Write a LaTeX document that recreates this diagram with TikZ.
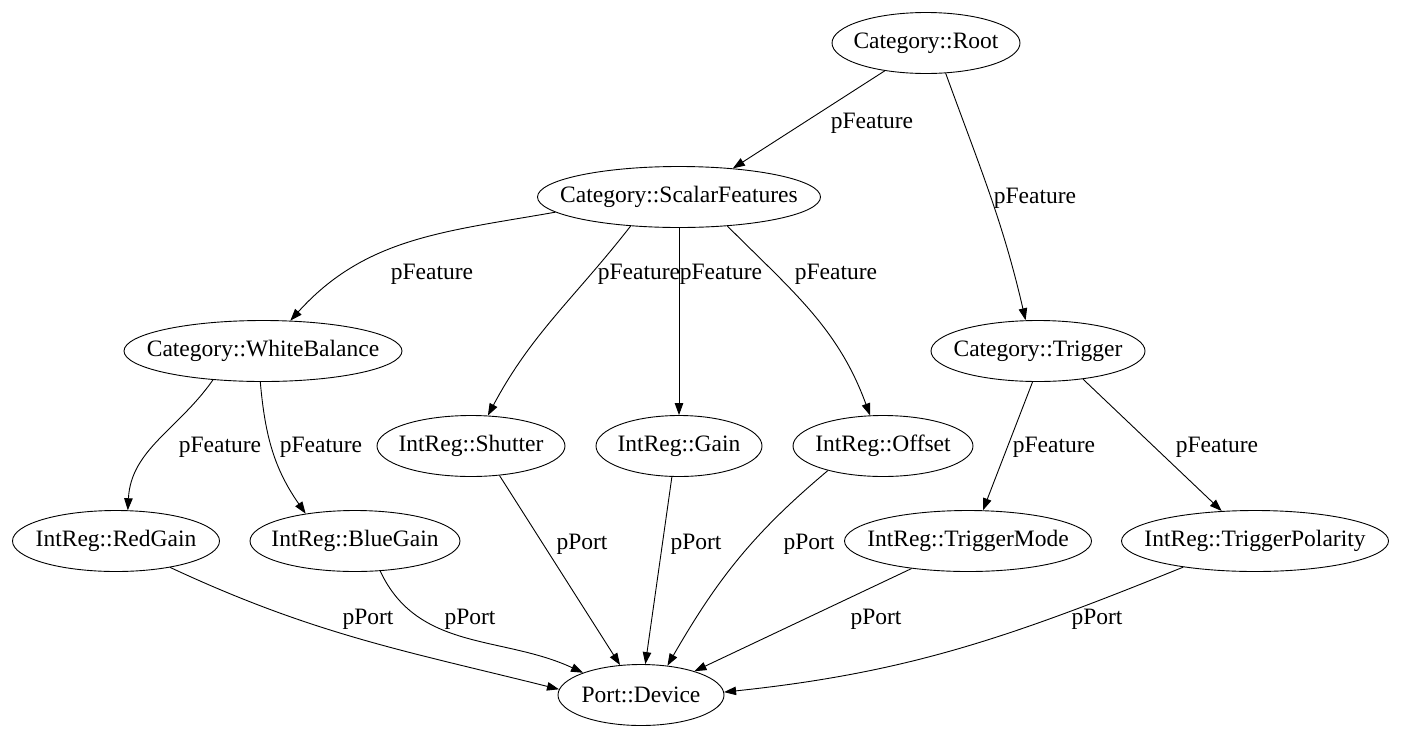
\documentclass[tikz,border=0pt]{standalone}
\usepackage{fontspec}
\setmainfont{Liberation Serif}
\usetikzlibrary{shapes.geometric,arrows.meta}
\newcommand{\zw}[1]{\makebox[0pt]{#1}}
\begin{document}
\begin{tikzpicture}[x=1pt,y=1pt,
  every node/.style={font=\fontsize{23.5}{28}\selectfont},
  nd/.style={draw, ellipse, line width=0.9pt, inner sep=0pt, minimum height=61pt},
  lbl/.style={inner sep=0pt},
  edge/.style={line width=0.9pt, -{Triangle[length=12pt,width=8.5pt]}}]
\useasboundingbox (0,0) rectangle (1404,-737);
% nodes
\node[nd, minimum width=188pt] (root)  at (926,-43)  {\zw{Category::Root}};
\node[nd, minimum width=283pt] (sf)    at (679,-197) {\zw{Category::ScalarFeatures}};
\node[nd, minimum width=278pt] (wb)    at (263,-351) {\zw{Category::WhiteBalance}};
\node[nd, minimum width=214pt] (trig)  at (1038,-351) {\zw{Category::Trigger}};
\node[nd, minimum width=188pt] (shut)  at (471,-446) {\zw{IntReg::Shutter}};
\node[nd, minimum width=166pt] (gain)  at (679,-446) {\zw{IntReg::Gain}};
\node[nd, minimum width=180pt] (off)   at (883,-446) {\zw{IntReg::Offset}};
\node[nd, minimum width=207pt] (red)   at (116,-541) {\zw{IntReg::RedGain}};
\node[nd, minimum width=210pt] (blue)  at (355,-541) {\zw{IntReg::BlueGain}};
\node[nd, minimum width=247pt] (tmode) at (968,-541) {\zw{IntReg::TriggerMode}};
\node[nd, minimum width=267pt] (tpol)  at (1255,-541) {\zw{IntReg::TriggerPolarity}};
\node[nd, minimum width=166pt] (dev)   at (641,-695) {\zw{Port::Device}};
% edges
\draw[edge] (root.-146) -- (sf.28);
\draw[edge] (root.-57) to[out=-70,in=103] (trig.112);
\draw[edge] (sf.-173) to[out=190,in=48] (wb.48);
\draw[edge] (sf.-149) to[out=-128,in=62] (shut.61);
\draw[edge] (gain |- sf.south) -- (gain);
\draw[edge] (sf.-31) to[out=-45,in=110] (off.113);
\draw[edge] (wb.-150) to[out=-125,in=87] (red.69);
\draw[edge] (wb.-95) to[out=-85,in=125] (blue.151);
\draw[edge] (trig.-100) -- (tmode.64);
\draw[edge] (trig.-32) -- (tpol.138);
\draw[edge] (red.-26) to[out=-25,in=166] (dev.176);
\draw[edge] (blue.-50) to[out=-65,in=155] (dev.159);
\draw[edge] (shut.-46) -- (dev.125);
\draw[edge] (gain.-103) -- (dev.82);
\draw[edge] (off.-156) to[out=-140,in=60] (dev.48);
\draw[edge] (tmode.-154) -- (dev.24);
\draw[edge] (tpol.-160) to[out=-158,in=6] (dev.2);
% labels
\node[lbl] (l1)  at (872,-123) {pFeature};
\node[lbl] (l2)  at (1035,-198) {pFeature};
\node[lbl] (l3)  at (432,-274) {pFeature};
\node[lbl] (l4)  at (639,-274) {pFeature};
\node[lbl] (l5)  at (721,-274) {pFeature};
\node[lbl] (l6)  at (836,-274) {pFeature};
\node[lbl] (l7)  at (220,-447) {pFeature};
\node[lbl] (l8)  at (321,-447) {pFeature};
\node[lbl] (l9)  at (1054,-447) {pFeature};
\node[lbl] (l10) at (1217,-447) {pFeature};
\node[lbl] (l11) at (368,-619) {pPort};
\node[lbl] (l12) at (470,-619) {pPort};
\node[lbl] (l13) at (582,-544) {pPort};
\node[lbl] (l14) at (696,-544) {pPort};
\node[lbl] (l15) at (809,-544) {pPort};
\node[lbl] (l16) at (876,-619) {pPort};
\node[lbl] (l17) at (1097,-619) {pPort};
\end{tikzpicture}
\end{document}
